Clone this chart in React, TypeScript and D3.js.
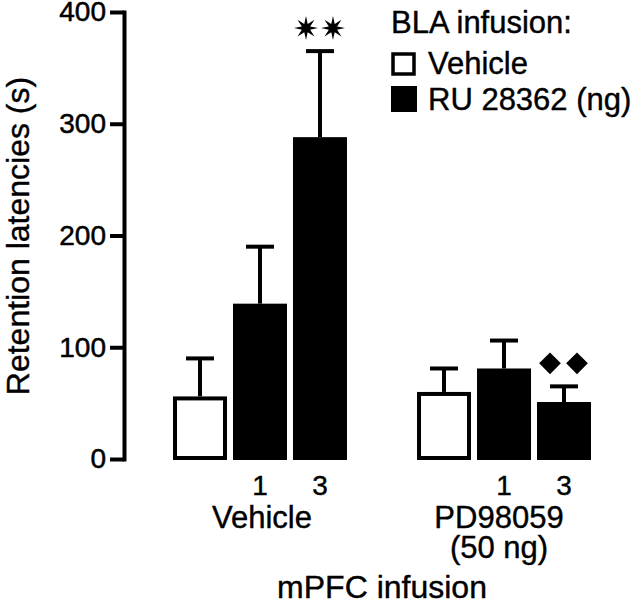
import React, { useEffect, useRef } from 'react';
import * as d3 from 'd3';

// mPFC infusion groups and BLA infusion conditions
const groups = ['Vehicle', 'PD98059'];
const groupLabels = [['Vehicle'], ['PD98059', '(50 ng)']];
const conditions = ['veh', 'ru1', 'ru3'];
const conditionLabels = ['', '1', '3'];

// mean retention latencies (s) per group, in condition order
const vehicleMeans = [56, 139, 288];
const pdMeans = [60, 81, 51];
// SEM
const vehicleErr = [34, 51, 77];
const pdErr = [21, 25, 14];

const yTicks = [0, 100, 200, 300, 400];

// significance markers: ** vs vehicle, diamonds vs RU alone
const markGroups = ['Vehicle', 'PD98059'];
const markConds = ['ru3', 'ru3'];
const markTypes = ['star', 'diamond'];

const W = 640;
const H = 603;
const FONT = '"Liberation Sans", Arial, sans-serif';

export default function App() {
  const ref = useRef<SVGSVGElement>(null);

  useEffect(() => {
    const svg = d3.select(ref.current).html('');

    const y = d3.scaleLinear().domain([0, 400]).range([459, 12]);
    const x0 = d3.scaleBand().domain(groups).range([173, 591]).paddingInner(0.287);
    const x1 = d3.scaleBand().domain(conditions).range([0, x0.bandwidth()]).paddingInner(0.1);

    const rows = groups.flatMap((g, gi) => {
      const means = gi === 0 ? vehicleMeans : pdMeans;
      const errs = gi === 0 ? vehicleErr : pdErr;
      return conditions.map((c, ci) => ({ g, c, v: means[ci], e: errs[ci] }));
    });
    const cx = (g: string, c: string) => (x0(g) as number) + (x1(c) as number) + x1.bandwidth() / 2;

    // error bars (upper only), drawn before the bars
    const eb = svg.append('g').attr('stroke', '#000').attr('stroke-width', 4);
    eb.selectAll('line.v').data(rows).enter().append('line')
      .attr('x1', (d) => cx(d.g, d.c)).attr('x2', (d) => cx(d.g, d.c))
      .attr('y1', (d) => y(d.v)).attr('y2', (d) => y(d.v + d.e));
    eb.selectAll('line.cap').data(rows).enter().append('line')
      .attr('x1', (d) => cx(d.g, d.c) - 14).attr('x2', (d) => cx(d.g, d.c) + 14)
      .attr('y1', (d) => y(d.v + d.e)).attr('y2', (d) => y(d.v + d.e));

    // bars
    svg.append('g').selectAll('rect').data(rows).enter().append('rect')
      .attr('x', (d) => (x0(d.g) as number) + (x1(d.c) as number) + (d.c === 'veh' ? 2 : 0))
      .attr('y', (d) => y(d.v) + (d.c === 'veh' ? 2 : 0))
      .attr('width', (d) => x1.bandwidth() - (d.c === 'veh' ? 4 : 0))
      .attr('height', (d) => y(0) - y(d.v) + 1 - (d.c === 'veh' ? 4 : 0))
      .attr('fill', (d) => (d.c === 'veh' ? '#fff' : '#000'))
      .attr('stroke', '#000')
      .attr('stroke-width', (d) => (d.c === 'veh' ? 4 : 0));

    // y axis
    const ax = svg.append('g').attr('transform', 'translate(124,0)')
      .call(d3.axisLeft(y).tickValues(yTicks).tickSize(14).tickSizeOuter(0).tickPadding(4));
    ax.select('.domain').attr('stroke-width', 4).attr('stroke-linecap', 'square');
    ax.selectAll('.tick line').attr('stroke-width', 4);
    ax.selectAll('.tick text')
      .attr('font-family', FONT).attr('font-size', 28).attr('fill', '#000')
      .attr('stroke', '#000').attr('stroke-width', 0.5);

    const txt = (x: number, yy: number, size: number, s: string, anchor = 'middle') =>
      svg.append('text')
        .attr('x', x).attr('y', yy)
        .attr('text-anchor', anchor)
        .attr('font-family', FONT).attr('font-size', size)
        .attr('stroke', '#000').attr('stroke-width', 0.4)
        .text(s);

    // y title
    txt(0, 0, 32, 'Retention latencies (s)').attr('transform', 'translate(29,236) rotate(-90)');

    // dose labels under bars
    groups.forEach((g) => {
      conditions.forEach((c, ci) => txt(cx(g, c), 495, 28, conditionLabels[ci]));
    });

    // group labels
    groups.forEach((g, gi) => {
      groupLabels[gi].forEach((line, li) =>
        txt((x0(g) as number) + x0.bandwidth() / 2 + (gi === 0 ? 2 : -5), 528 + li * 30, 31, line));
    });

    txt(382, 598, 32, 'mPFC infusion');

    // significance markers
    const star = d3.lineRadial<number>()
      .angle((i) => (i * Math.PI) / 8)
      .radius((i) => (i % 2 === 0 ? 12 : 4.5))
      .curve(d3.curveLinearClosed);
    const diamond = d3.symbol(d3.symbolDiamond2, 300);
    markGroups.forEach((g, mi) => {
      const r = rows.find((d) => d.g === g && d.c === markConds[mi])!;
      const my = y(r.v + r.e) - 23;
      [-14, 13].forEach((dx) => {
        const p = svg.append('path')
          .attr('transform', `translate(${cx(g, markConds[mi]) + dx},${my})`)
          .attr('fill', '#000');
        if (markTypes[mi] === 'star') p.attr('d', star(d3.range(16)));
        else p.attr('d', diamond());
      });
    });

    // legend
    txt(391, 33, 31, 'BLA infusion:', 'start');
    svg.append('rect').attr('x', 393).attr('y', 54).attr('width', 21).attr('height', 20)
      .attr('fill', '#fff').attr('stroke', '#000').attr('stroke-width', 3.5);
    txt(428, 74, 31, 'Vehicle', 'start');
    svg.append('rect').attr('x', 391).attr('y', 86).attr('width', 26).attr('height', 26).attr('fill', '#000');
    txt(428, 110, 31, 'RU 28362 (ng)', 'start');
  }, []);

  return <svg ref={ref} width={W} height={H} style={{ position: 'absolute', left: 0, top: 0, background: '#fff' }}></svg>;
}
